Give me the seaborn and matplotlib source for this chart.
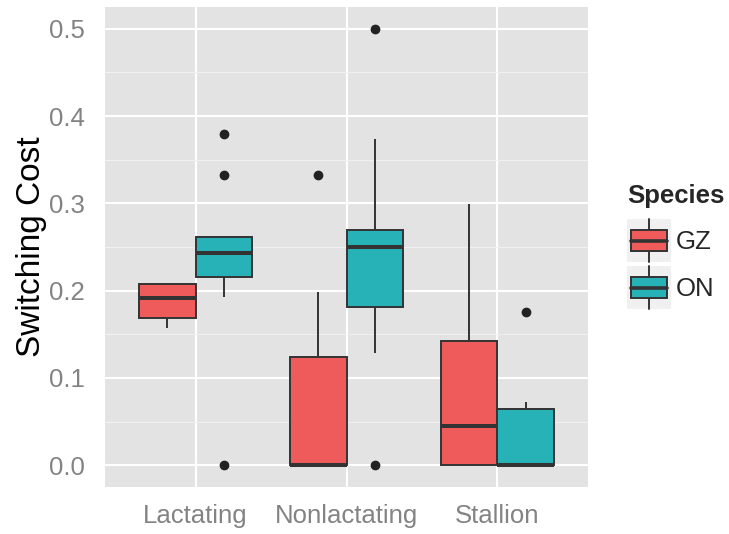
import numpy as np
import pandas as pd
import seaborn as sns
import matplotlib
matplotlib.use("Agg")
import matplotlib.pyplot as plt
from matplotlib.patches import Rectangle, Patch
from matplotlib.lines import Line2D
from matplotlib.legend_handler import HandlerBase

# ---- data (observations read from the box summaries) ----
states = ["Lactating", "Nonlactating", "Stallion"]
species = ["GZ", "ON"]
lactating_gz = [0.157, 0.169, 0.191, 0.208, 0.208]
lactating_on = [0.0, 0.193, 0.216, 0.230, 0.243, 0.250, 0.262, 0.333, 0.379]
nonlactating_gz = [0.0, 0.0, 0.0, 0.0, 0.0, 0.100, 0.124, 0.198, 0.333]
nonlactating_on = [0.0, 0.128, 0.181, 0.220, 0.250, 0.260, 0.270, 0.374, 0.500]
stallion_gz = [0.0, 0.0, 0.045, 0.142, 0.299]
stallion_on = [0.0, 0.0, 0.0, 0.0, 0.0, 0.050, 0.064, 0.072, 0.175]
colors = ["#EF5B5A", "#26B2B7"]
yticks = [0.0, 0.1, 0.2, 0.3, 0.4, 0.5]

groups = {
    ("Lactating", "GZ"): lactating_gz,
    ("Lactating", "ON"): lactating_on,
    ("Nonlactating", "GZ"): nonlactating_gz,
    ("Nonlactating", "ON"): nonlactating_on,
    ("Stallion", "GZ"): stallion_gz,
    ("Stallion", "ON"): stallion_on,
}
rows = []
for (st, sp), vals in groups.items():
    for v in vals:
        rows.append({"State": st, "Species": sp, "Switching Cost": v})
df = pd.DataFrame(rows)

sns.set_theme(style="white")
plt.rcParams["font.family"] = ["Liberation Sans", "DejaVu Sans"]

fig = plt.figure(figsize=(7.29, 5.34), dpi=100)
ax = fig.add_axes([105 / 729, 1 - 487 / 534, 483 / 729, 480 / 534])
ax.set_facecolor("#E3E3E3")

edge = "#333333"
sns.boxplot(
    data=df, x="State", y="Switching Cost", hue="Species",
    order=states, hue_order=species, palette=colors, saturation=1,
    width=0.75, gap=0, dodge=True, linecolor=edge, linewidth=1.4,
    showcaps=False, whis=1.5,
    medianprops=dict(linewidth=2.9, color=edge),
    flierprops=dict(marker="o", markerfacecolor="#222222", markeredgecolor="#222222",
                    markersize=6),
    legend=False, ax=ax,
)

ax.set_xlim(-0.6, 2.6)
ax.set_ylim(-0.025, 0.525)
ax.set_yticks(yticks)
ax.set_yticklabels([f"{t:.1f}" for t in yticks])
ax.set_yticks([0.05, 0.15, 0.25, 0.35, 0.45], minor=True)
ax.set_axisbelow(True)
ax.grid(which="major", axis="both", color="white", linewidth=1.5)
ax.grid(which="minor", axis="y", color="#F0F0F0", linewidth=0.8)
for s in ax.spines.values():
    s.set_visible(False)
ax.tick_params(which="major", length=7, width=1.2, color="#888888",
               labelcolor="#838383", labelsize=18.5)
ax.tick_params(which="minor", length=0)
ax.tick_params(axis="y", pad=7.5)
ax.tick_params(axis="x", pad=5)
ax.set_xlabel("")
ax.set_ylabel("Switching Cost", fontsize=24, color="black")
ax.yaxis.set_label_coords((47 - 105) / 483, 0.5)


class BoxKeyHandler(HandlerBase):
    def create_artists(self, legend, orig_handle, xdescent, ydescent, width, height,
                       fontsize, trans):
        x0, y0 = -xdescent, -ydescent
        bg = Rectangle((x0, y0), width, height, facecolor="#F0F0F0", edgecolor="none",
                       transform=trans)
        cx = x0 + width / 2
        wl = Line2D([cx, cx], [y0, y0 + 0.25 * height], color=edge, lw=1.4, transform=trans)
        wu = Line2D([cx, cx], [y0 + 0.75 * height, y0 + height], color=edge, lw=1.4,
                    transform=trans)
        box = Rectangle((x0 + 0.1 * width, y0 + 0.25 * height), 0.8 * width, 0.5 * height,
                        facecolor=orig_handle.get_facecolor(), edgecolor=edge, lw=1.4,
                        transform=trans)
        med = Line2D([x0 + 0.1 * width, x0 + 0.9 * width], [y0 + 0.5 * height] * 2,
                     color=edge, lw=2.6, transform=trans)
        return [bg, wl, wu, box, med]


handles = [Patch(facecolor=c, label=s) for c, s in zip(colors, species)]
leg = fig.legend(
    handles=handles, labels=species, title="Species",
    handler_map={Patch: BoxKeyHandler()},
    loc="upper left", bbox_to_anchor=(627 / 729, 1 - 184 / 534),
    frameon=False, fontsize=18.5, title_fontproperties={"weight": "bold", "size": 18.5},
    handlelength=1.71, handleheight=2.2, labelspacing=0.15, handletextpad=0.2,
    borderpad=0, borderaxespad=0, alignment="left",
)
leg._legend_box.sep = 8

fig.savefig("out.png", dpi=100)
